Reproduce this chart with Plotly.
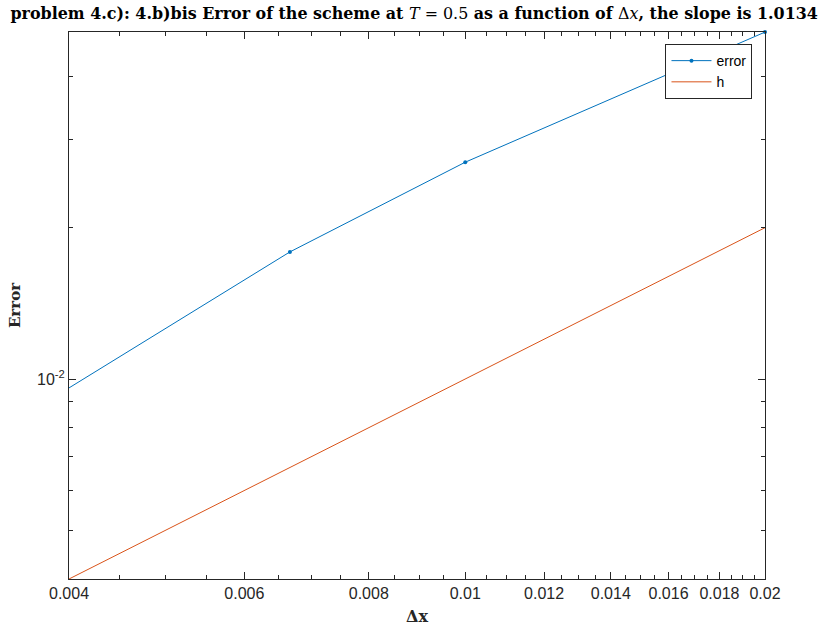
import plotly.graph_objects as go

# Grid spacings and measured errors
dx = [1 / 250, 1 / 150, 1 / 100, 1 / 50]
error = [0.0096, 0.0179, 0.0270, 0.0490]
# Reference first-order line h = dx
h_x = [0.004, 0.02]
h_y = [0.004, 0.02]

x_major = [0.004, 0.006, 0.008, 0.01, 0.012, 0.014, 0.016, 0.018, 0.02]
x_major_text = ["0.004", "0.006", "0.008", "0.01", "0.012", "0.014", "0.016", "0.018", "0.02"]
x_minor = [round(0.004 + 0.0005 * i, 6) for i in range(33)]
y_major = [0.01]
y_major_text = ["10<sup>-2</sup>"]
y_minor = [0.004, 0.005, 0.006, 0.007, 0.008, 0.009, 0.02, 0.03, 0.04]

axis_color = "#262626"
sans = "Liberation Sans, Arial, sans-serif"
serif = "DejaVu Serif, serif"
tick_font = dict(family=sans, size=16, color=axis_color)

fig = go.Figure()
fig.add_trace(go.Scatter(
    x=dx, y=error, name="error", mode="lines+markers",
    line=dict(color="#0072BD", width=1),
    marker=dict(color="#0072BD", size=4),
    cliponaxis=False,
))
fig.add_trace(go.Scatter(
    x=h_x, y=h_y, name="h", mode="lines",
    line=dict(color="#D95319", width=1),
    cliponaxis=False,
))

title = ("<b>problem 4.c): 4.b)bis Error of the scheme at </b><i>T</i> = 0.5"
         "<b> as a function of </b>Δ<i>x</i><b>, the slope is 1.0134</b>")

fig.update_layout(
    width=825, height=630,
    margin=dict(l=69, r=60, t=32, b=51),
    paper_bgcolor="white", plot_bgcolor="white",
    title=dict(text=title, x=0.502, xanchor="center", y=0.988, yanchor="top",
               font=dict(family=serif, size=15.9, color="black")),
    showlegend=True,
    legend=dict(
        x=0.982, y=0.978, xanchor="right", yanchor="top",
        bgcolor="white", bordercolor=axis_color, borderwidth=1,
        font=dict(family=sans, size=14, color="black"),
        tracegroupgap=0, itemwidth=40,
    ),
)

fig.update_xaxes(
    type="log", range=[-2.39794, -1.69897], automargin=False,
    tickmode="array", tickvals=x_major, ticktext=x_major_text,
    ticks="inside", ticklen=7, tickcolor=axis_color, tickwidth=1,
    minor=dict(tickmode="array", tickvals=x_minor, ticks="inside", ticklen=4,
               tickcolor=axis_color, tickwidth=1, showgrid=False),
    showline=True, linecolor=axis_color, linewidth=1, mirror="ticks",
    showgrid=False, zeroline=False, tickfont=tick_font,
    title=dict(text="<b>Δx</b>", standoff=9,
               font=dict(family=serif, size=16, color=axis_color)),
)

fig.update_yaxes(
    type="log", range=[-2.39794, -1.3096], automargin=False,
    tickmode="array", tickvals=y_major, ticktext=y_major_text,
    ticks="inside", ticklen=7, tickcolor=axis_color, tickwidth=1,
    minor=dict(tickmode="array", tickvals=y_minor, ticks="inside", ticklen=4,
               tickcolor=axis_color, tickwidth=1, showgrid=False),
    showline=True, linecolor=axis_color, linewidth=1, mirror="ticks",
    showgrid=False, zeroline=False, tickfont=tick_font,
    title=dict(text="<b>Error</b>", standoff=12,
               font=dict(family=serif, size=15, color=axis_color)),
)

fig.write_html("out.html")
